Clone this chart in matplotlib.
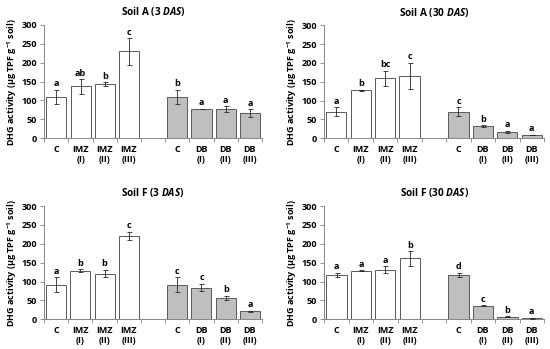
import numpy as np
import matplotlib
matplotlib.use("Agg")
import matplotlib.pyplot as plt

FONT = 'Open Sans'
plt.rcParams['font.family'] = [FONT, 'DejaVu Sans']
plt.rcParams['font.weight'] = 'bold'
plt.rcParams['mathtext.fontset'] = 'custom'
plt.rcParams['mathtext.rm'] = FONT + ':bold'
plt.rcParams['mathtext.bf'] = FONT + ':bold'
plt.rcParams['mathtext.it'] = FONT + ':bold:italic'

cats = ['C', 'IMZ\n(I)', 'IMZ\n(II)', 'IMZ\n(III)', 'C', 'DB\n(I)', 'DB\n(II)', 'DB\n(III)']
is_db = [False, False, False, False, True, True, True, True]

titles = ['Soil A (3 $\\it{DAS}$)', 'Soil A (30 $\\it{DAS}$)',
          'Soil F (3 $\\it{DAS}$)', 'Soil F (30 $\\it{DAS}$)']

a3_mean = [108, 137, 143, 230, 108, 77, 76, 66]
a3_err = [19, 19, 5, 35, 19, 1, 8, 10]
a3_let = ['a', 'ab', 'b', 'c', 'b', 'a', 'a', 'a']

a30_mean = [70, 127, 159, 165, 70, 32, 17, 9]
a30_err = [12, 2, 20, 35, 12, 2, 3, 1]
a30_let = ['a', 'b', 'bc', 'c', 'c', 'b', 'a', 'a']

f3_mean = [92, 129, 121, 221, 92, 84, 57, 21]
f3_err = [19, 3, 10, 10, 19, 10, 5, 1]
f3_let = ['a', 'b', 'b', 'c', 'c', 'c', 'b', 'a']

f30_mean = [117, 129, 131, 161, 117, 36, 7, 3]
f30_err = [6, 1, 9, 19, 6, 1, 1, 1]
f30_let = ['a', 'a', 'a', 'b', 'd', 'c', 'b', 'a']

panels = [(a3_mean, a3_err, a3_let), (a30_mean, a30_err, a30_let),
          (f3_mean, f3_err, f3_let), (f30_mean, f30_err, f30_let)]

W, H = 550, 349
# axes boxes in pixels: left, right, bottom, top
boxes = [(44.3, 262, 138, 25), (324, 544, 138.3, 25.3),
         (44, 262, 319.3, 206), (324.3, 544, 319.3, 206)]

fig = plt.figure(figsize=(W / 100, H / 100), dpi=100)
x = np.array([0, 1, 2, 3, 5, 6, 7, 8])
spine_c = '#868686'

for (mean, err, let), (l, r, b, t), title in zip(panels, boxes, titles):
    ax = fig.add_axes([l / W, 1 - b / H, (r - l) / W, (b - t) / H])
    colors = ['#bfbfbf' if d else 'white' for d in is_db]
    ax.bar(x, mean, width=0.83, color=colors, edgecolor='#595959', linewidth=0.7, zorder=2)
    ax.errorbar(x, mean, yerr=err, fmt='none', ecolor='#262626', elinewidth=0.6,
                capsize=1.8, capthick=0.6, zorder=3)
    for xi, m, e, s in zip(x, mean, err, let):
        ax.annotate(s, (xi, m + e), xytext=(0, 1.2), textcoords='offset points',
                    ha='center', va='bottom', fontsize=6.5, fontweight='bold')
    ax.set_xlim(-0.5, 8.5)
    ax.set_ylim(0, 300)
    ax.set_yticks(range(0, 301, 50))
    ax.set_xticks(x)
    ax.set_xticklabels(cats, fontsize=6.5, fontweight='bold', linespacing=1.1)
    ax.set_xticks(np.arange(-0.5, 9, 1), minor=True)
    ax.tick_params(axis='x', which='major', length=0, pad=5)
    ax.tick_params(axis='x', which='minor', length=3, width=0.6, color=spine_c, direction='out')
    ax.tick_params(axis='y', length=3, width=0.6, color=spine_c, labelsize=6.5, pad=2)
    for lbl in ax.get_yticklabels():
        lbl.set_fontweight('bold')
    for s in ['top', 'right']:
        ax.spines[s].set_visible(False)
    for s in ['left', 'bottom']:
        ax.spines[s].set_color(spine_c)
        ax.spines[s].set_linewidth(0.7)
    ax.set_ylabel('DHG activity (µg TPF g$^{-1}$ soil)', fontsize=6.5, fontweight='bold', labelpad=2)
    ax.set_title(title, fontsize=7.2, fontweight='bold', pad=7)

fig.savefig('out.png', dpi=100)
